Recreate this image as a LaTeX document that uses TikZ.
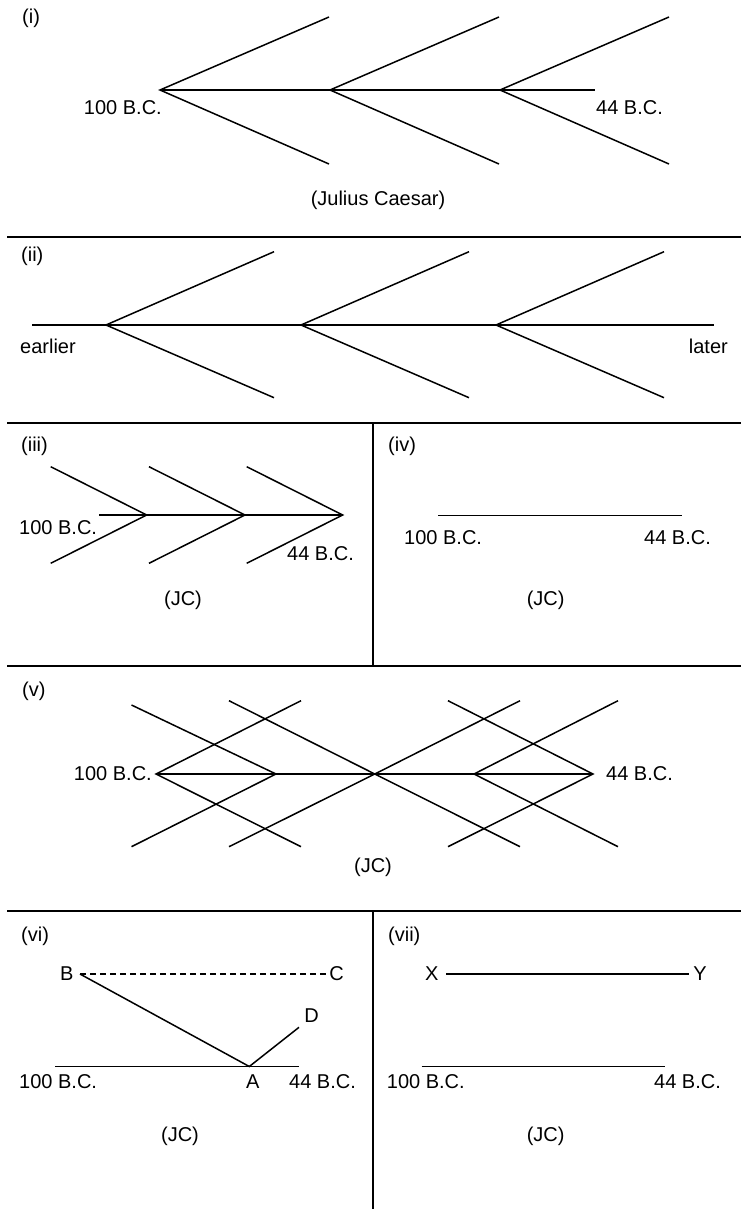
\documentclass[tikz,border=0pt]{standalone}
\usepackage{fontspec}
\setmainfont{Liberation Sans}
\begin{document}
\begin{tikzpicture}[x=1pt,y=-1pt,
  ln/.style={line width=1.5pt},
  rule/.style={line width=1.8pt},
  dashedln/.style={line width=1.3pt, dash pattern=on 6pt off 4pt},
  lbl/.style={inner sep=0pt, font=\fontsize{20}{24}\selectfont},
]
\useasboundingbox (0,0) rectangle (741,1209);

% ---------- dividers ----------
\coordinate (d1l) at (7,237);   \coordinate (d1r) at (741,237);
\coordinate (d2l) at (7,422.7); \coordinate (d2r) at (741,422.7);
\coordinate (d3l) at (7,666);   \coordinate (d3r) at (741,666);
\coordinate (d4l) at (7,910.7); \coordinate (d4r) at (741,910.7);
\coordinate (v1t) at (372.7,422.7); \coordinate (v1b) at (372.7,666);
\coordinate (v2t) at (372.7,910.7); \coordinate (v2b) at (372.7,1209);
\draw[rule] (d1l) -- (d1r);
\draw[rule] (d2l) -- (d2r);
\draw[rule] (d3l) -- (d3r);
\draw[rule] (d4l) -- (d4r);
\draw[rule] (v1t) -- (v1b);
\draw[rule] (v2t) -- (v2b);

% ---------- (i) ----------
\node[lbl, anchor=west] (ilab) at (22,18.3) {(i)};
\foreach \i/\x in {1/160,2/330,3/500} {
  \coordinate (iv\i) at (\x,90);
  \coordinate (iu\i) at (\x+169,17);
  \coordinate (id\i) at (\x+169,164);
  \draw[ln] (iu\i) -- (iv\i) -- (id\i);
}
\coordinate (iend) at (595,90);
\draw[ln] (iv1) -- (iend);
\node[lbl, anchor=east] (i100) at (162,108) {100 B.C.};
\node[lbl, anchor=west] (i44) at (596,108) {44 B.C.};
\node[lbl] (ijc) at (378,200) {(Julius Caesar)};

% ---------- (ii) ----------
\node[lbl, anchor=west] (iilab) at (21,256.7) {(ii)};
\foreach \i/\x in {1/106,2/301,3/496} {
  \coordinate (iiv\i) at (\x,325);
  \coordinate (iiu\i) at (\x+168,251.7);
  \coordinate (iid\i) at (\x+168,397.7);
  \draw[ln] (iiu\i) -- (iiv\i) -- (iid\i);
}
\coordinate (iis) at (32,325); \coordinate (iie) at (714,325);
\draw[ln] (iis) -- (iie);
\node[lbl, anchor=west] (iiearly) at (20,346.7) {earlier};
\node[lbl, anchor=east] (iilate) at (728,346.7) {later};

% ---------- (iii) ----------
\node[lbl, anchor=west] (iiilab) at (21,446.7) {(iii)};
\foreach \i/\x in {1/146.7,2/245,3/342.7} {
  \coordinate (iiiv\i) at (\x,515);
  \coordinate (iiiu\i) at (\x-96,466.7);
  \coordinate (iiid\i) at (\x-96,563.3);
  \draw[ln] (iiiu\i) -- (iiiv\i) -- (iiid\i);
}
\coordinate (iiis) at (99.3,515);
\draw[ln] (iiis) -- (iiiv3);
\node[lbl, anchor=west] (iii100) at (19,527.7) {100 B.C.};
\node[lbl, anchor=west] (iii44) at (287,554) {44 B.C.};
\node[lbl] (iiijc) at (183,600) {(JC)};

% ---------- (iv) ----------
\node[lbl, anchor=west] (ivlab) at (388,446.7) {(iv)};
\coordinate (ivs) at (438.3,515.7); \coordinate (ive) at (681.7,515.7);
\draw[ln] (ivs) -- (ive);
\node[lbl, anchor=west] (iv100) at (404,537.3) {100 B.C.};
\node[lbl, anchor=west] (iv44) at (644,537.3) {44 B.C.};
\node[lbl] (ivjc) at (545.7,600) {(JC)};

% ---------- (v) ----------
\node[lbl, anchor=west] (vlab) at (22,691.7) {(v)};
\coordinate (vL) at (156,774);
\coordinate (vA) at (276,774);
\coordinate (vC) at (374.8,774);
\coordinate (vB) at (474,774);
\coordinate (vR) at (593,774);
\draw[ln] (vL) -- (vR);
% left vertex, arms to the right
\coordinate (vLu) at (301,700.7); \coordinate (vLd) at (301,846.7);
\draw[ln] (vLu) -- (vL) -- (vLd);
% second vertex, arms to the left
\coordinate (vAu) at (131.5,705); \coordinate (vAd) at (131.5,846.7);
\draw[ln] (vAu) -- (vA) -- (vAd);
% centre cross
\coordinate (vC1) at (229,700.7); \coordinate (vC2) at (520,846.7);
\coordinate (vC3) at (229,846.7); \coordinate (vC4) at (520,700.7);
\draw[ln] (vC1) -- (vC) -- (vC2);
\draw[ln] (vC3) -- (vC) -- (vC4);
% fourth vertex, arms to the right
\coordinate (vBu) at (618,700.7); \coordinate (vBd) at (618,846.7);
\draw[ln] (vBu) -- (vB) -- (vBd);
% right vertex, arms to the left
\coordinate (vRu) at (448,700.7); \coordinate (vRd) at (448,846.7);
\draw[ln] (vRu) -- (vR) -- (vRd);
\node[lbl, anchor=east] (v100) at (152,774) {100 B.C.};
\node[lbl, anchor=west] (v44) at (606,774) {44 B.C.};
\node[lbl] (vjc) at (373,867.3) {(JC)};

% ---------- (vi) ----------
\node[lbl, anchor=west] (vilab) at (21,936) {(vi)};
\node[lbl] (viB) at (66.7,973.3) {B};
\node[lbl] (viC) at (336.7,973.3) {C};
\node[lbl] (viD) at (311.7,1016) {D};
\node[lbl] (viAl) at (252.7,1081.7) {A};
\coordinate (viBp) at (80,974);
\coordinate (viCp) at (328,974);
\coordinate (viA) at (249.3,1066.5);
\coordinate (viDp) at (299,1027.3);
\coordinate (vis) at (55,1066.7); \coordinate (vie) at (299,1066.7);
\draw[dashedln] (viBp) -- (viCp);
\draw[ln] (viBp) -- (viA) -- (viDp);
\draw[ln] (vis) -- (vie);
\node[lbl, anchor=west] (vi100) at (19,1081.7) {100 B.C.};
\node[lbl, anchor=west] (vi44) at (289,1081.7) {44 B.C.};
\node[lbl] (vijc) at (180,1136) {(JC)};

% ---------- (vii) ----------
\node[lbl, anchor=west] (viilab) at (388,936) {(vii)};
\node[lbl] (viiX) at (431.7,973.3) {X};
\node[lbl] (viiY) at (700,973.3) {Y};
\coordinate (viiXp) at (446,974); \coordinate (viiYp) at (689.3,974);
\draw[ln] (viiXp) -- (viiYp);
\coordinate (viis) at (421.7,1066.7); \coordinate (viie) at (665,1066.7);
\draw[ln] (viis) -- (viie);
\node[lbl, anchor=west] (vii100) at (386.7,1081.7) {100 B.C.};
\node[lbl, anchor=west] (vii44) at (654,1081.7) {44 B.C.};
\node[lbl] (viijc) at (545.7,1136) {(JC)};
\end{tikzpicture}
\end{document}
